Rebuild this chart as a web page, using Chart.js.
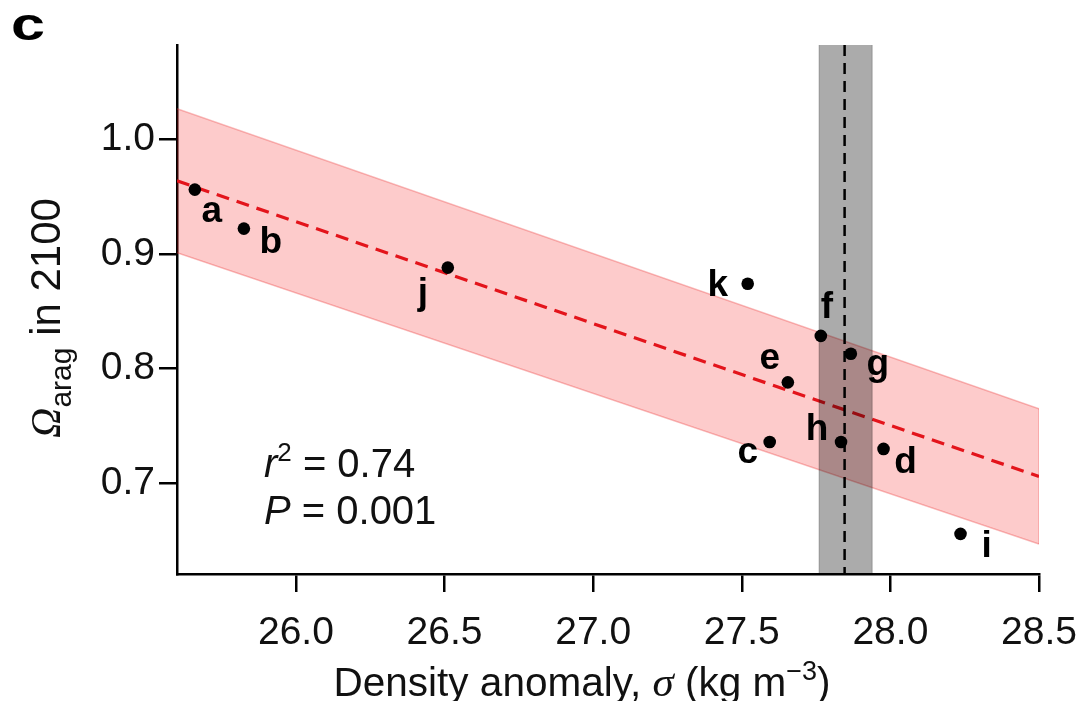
<!DOCTYPE html>
<html>
<head>
<meta charset="utf-8">
<script src="https://cdn.jsdelivr.net/npm/chart.js@4/dist/chart.umd.min.js"></script>
<style>
  html, body { margin: 0; padding: 0; background: #fff; }
  #wrap { width: 1081px; height: 701px; }
</style>
</head>
<body>
<div id="wrap"><canvas id="chart" width="1081" height="701"></canvas></div>
<script>
// Sites (a–k): density anomaly vs. aragonite saturation in 2100
const siteLabels     = ['a', 'b', 'c', 'd', 'e', 'f', 'g', 'h', 'i', 'j', 'k'];
const densityAnomaly = [25.66, 25.825, 27.594, 27.977, 27.655, 27.766, 27.867, 27.834, 28.236, 26.511, 27.52];
const omegaArag2100  = [0.956, 0.922, 0.736, 0.730, 0.788, 0.8285, 0.813, 0.736, 0.656, 0.888, 0.874];

// Regression line and its shaded band
const fitX     = [25.6, 28.5];
const fitY     = [0.9636, 0.706];
const fitUpper = [1.0264, 0.765];
const fitLower = [0.9009, 0.6472];

// Observed density anomaly: mean and range
const obsDensityMean  = 27.846;
const obsDensityRange = [27.76, 27.939];

// Axis ticks
const xTickValues = [26.0, 26.5, 27.0, 27.5, 28.0, 28.5];
const yTickValues = [0.7, 0.8, 0.9, 1.0];

// Statistics
const rSquared = 0.74;
const pValue   = '0.001';

const SANS  = '"Liberation Sans", Arial, sans-serif';
const SERIF = '"Liberation Serif", "Times New Roman", serif';

// Where each site letter sits relative to its dot (px, alphabetic baseline)
const labelOffsets = {
  a: [17, 32], b: [27, 24], c: [-22, 21], d: [22, 24], e: [-18, -13], f: [6, -18],
  g: [27, 21], h: [-24, -2], i: [26, 23], j: [-25, 36], k: [-30, 12]
};

const pts = (xs, ys) => xs.map((x, i) => ({ x, y: ys[i] }));

function drawRuns(ctx, runs, x, y, align) {
  let total = 0;
  runs.forEach(r => { ctx.font = r.font; r.w = ctx.measureText(r.t).width; total += r.w; });
  let cx = align === 'center' ? x - total / 2 : x;
  runs.forEach(r => { ctx.font = r.font; ctx.fillText(r.t, cx, y + (r.dy || 0)); cx += r.w; });
}

const overlay = {
  id: 'overlay',
  afterDatasetsDraw(chart) {
    const { ctx, chartArea: a, scales: { x, y } } = chart;
    ctx.save();
    // observed-density range
    const l = x.getPixelForValue(obsDensityRange[0]);
    const r = x.getPixelForValue(obsDensityRange[1]);
    ctx.fillStyle = 'rgba(0,0,0,0.33)';
    ctx.fillRect(l, a.top, r - l, a.bottom - a.top);
    ctx.strokeStyle = 'rgba(0,0,0,0.15)';
    ctx.lineWidth = 1.5;
    ctx.beginPath();
    ctx.moveTo(l, a.top); ctx.lineTo(l, a.bottom);
    ctx.moveTo(r, a.top); ctx.lineTo(r, a.bottom);
    ctx.stroke();
    // observed mean
    const m = x.getPixelForValue(obsDensityMean);
    ctx.setLineDash([11, 7]);
    ctx.strokeStyle = '#000';
    ctx.lineWidth = 2.5;
    ctx.beginPath();
    ctx.moveTo(m, a.top); ctx.lineTo(m, a.bottom);
    ctx.stroke();
    ctx.setLineDash([]);

    // site letters
    ctx.fillStyle = '#000';
    ctx.font = 'bold 37px ' + SANS;
    ctx.textAlign = 'center';
    ctx.textBaseline = 'alphabetic';
    siteLabels.forEach((s, i) => {
      const px = x.getPixelForValue(densityAnomaly[i]);
      const py = y.getPixelForValue(omegaArag2100[i]);
      const o = labelOffsets[s];
      ctx.fillText(s, px + o[0], py + o[1]);
    });

    // statistics
    ctx.textAlign = 'left';
    ctx.fillStyle = '#111';
    drawRuns(ctx, [
      { t: 'r', font: 'italic 40px ' + SANS },
      { t: '2', font: '26px ' + SANS, dy: -16 },
      { t: ' = ' + rSquared.toFixed(2), font: '40px ' + SANS }
    ], 264, 477, 'left');
    drawRuns(ctx, [
      { t: 'P', font: 'italic 40px ' + SANS },
      { t: ' = ' + pValue, font: '40px ' + SANS }
    ], 264, 524, 'left');
    ctx.restore();
  },
  afterDraw(chart) {
    const { ctx } = chart;
    ctx.save();
    ctx.fillStyle = '#111';
    ctx.textAlign = 'left';
    ctx.textBaseline = 'alphabetic';
    // x-axis title
    drawRuns(ctx, [
      { t: 'Density anomaly, ', font: '40.5px ' + SANS },
      { t: 'σ', font: 'italic 43px ' + SERIF },
      { t: ' (kg m', font: '40.5px ' + SANS },
      { t: '\u22123', font: '27px ' + SANS, dy: -16 },
      { t: ')', font: '40.5px ' + SANS }
    ], 582, 696, 'center');
    // y-axis title
    ctx.translate(60, 318);
    ctx.rotate(-Math.PI / 2);
    drawRuns(ctx, [
      { t: 'Ω', font: 'italic 42px ' + SERIF },
      { t: 'arag', font: '30px ' + SANS, dy: 11 },
      { t: ' in 2100', font: '42px ' + SANS }
    ], 0, 0, 'center');
    ctx.restore();
    // panel letter
    ctx.save();
    ctx.fillStyle = '#000';
    ctx.font = 'bold 47px ' + SANS;
    ctx.textBaseline = 'alphabetic';
    ctx.translate(11, 40);
    ctx.scale(1.3, 1);
    ctx.fillText('c', 0, 0);
    ctx.restore();
  }
};

new Chart(document.getElementById('chart'), {
  type: 'scatter',
  data: {
    datasets: [
      { // upper edge of band, filled down to the lower edge
        data: pts(fitX, fitUpper), showLine: true, pointRadius: 0,
        borderColor: 'rgba(235,60,60,0.35)', borderWidth: 1.5,
        backgroundColor: 'rgba(245,20,20,0.22)', fill: '+1', order: 3
      },
      {
        data: pts(fitX, fitLower), showLine: true, pointRadius: 0,
        borderColor: 'rgba(235,60,60,0.35)', borderWidth: 1.5, fill: false, order: 3
      },
      { // right end of band
        data: [{ x: fitX[1], y: fitUpper[1] }, { x: fitX[1], y: fitLower[1] }],
        showLine: true, pointRadius: 0,
        borderColor: 'rgba(235,60,60,0.3)', borderWidth: 1.5, fill: false, order: 2
      },
      { // regression line
        data: pts(fitX, fitY), showLine: true, pointRadius: 0,
        borderColor: '#e3141b', borderWidth: 3.2, borderDash: [13, 8], fill: false, order: 1
      },
      { // sites
        data: pts(densityAnomaly, omegaArag2100), showLine: false,
        pointRadius: 6.3, pointBackgroundColor: '#000', pointBorderWidth: 0, order: 0
      }
    ]
  },
  options: {
    responsive: false,
    devicePixelRatio: 1,
    animation: false,
    events: [],
    layout: { padding: { top: 45, right: 42, left: 0, bottom: 0 } },
    plugins: { legend: { display: false }, tooltip: { enabled: false } },
    scales: {
      x: {
        type: 'linear', position: 'bottom', min: 25.6, max: 28.5,
        afterBuildTicks: s => { s.ticks = xTickValues.map(v => ({ value: v })); },
        afterFit: s => { s.height = 127; s.paddingLeft = 0; s.paddingRight = 0; },
        grid: { drawOnChartArea: false, drawTicks: true, tickLength: 18, color: '#000', lineWidth: 2.5 },
        border: { display: true, color: '#000', width: 2.5 },
        ticks: {
          font: { family: SANS, size: 39 }, color: '#111', padding: 18, maxRotation: 0,
          callback: v => Number(v).toFixed(1)
        }
      },
      y: {
        type: 'linear', position: 'left', min: 0.621, max: 1.082,
        afterBuildTicks: s => { s.ticks = yTickValues.map(v => ({ value: v })); },
        afterFit: s => { s.width = 177; s.paddingTop = 0; s.paddingBottom = 0; },
        grid: { drawOnChartArea: false, drawTicks: true, tickLength: 18, color: '#000', lineWidth: 2.5 },
        border: { display: true, color: '#000', width: 2.5 },
        ticks: {
          font: { family: SANS, size: 39 }, color: '#111', padding: 4,
          callback: v => Number(v).toFixed(1)
        }
      }
    }
  },
  plugins: [overlay]
});
</script>
</body>
</html>
